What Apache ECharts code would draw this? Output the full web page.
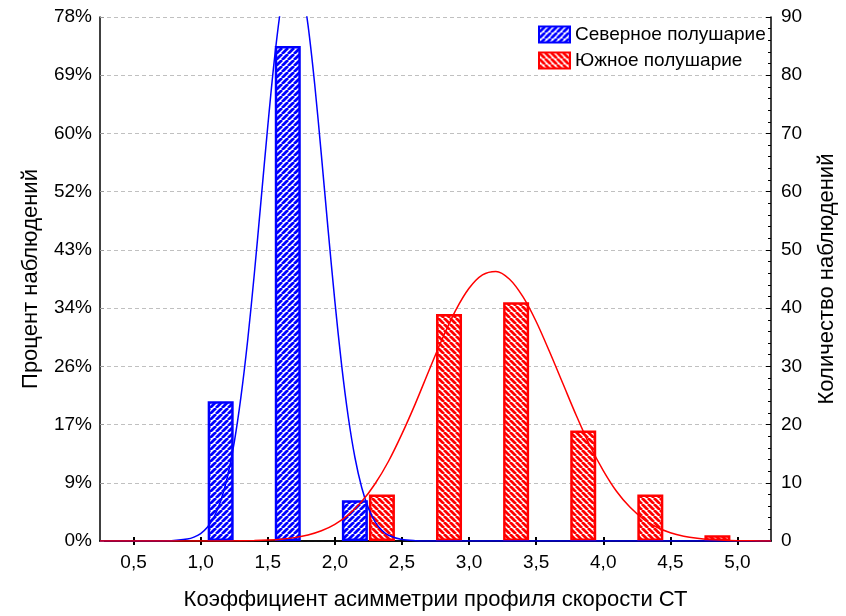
<!DOCTYPE html>
<html>
<head>
<meta charset="utf-8">
<script src="https://cdn.jsdelivr.net/npm/echarts@6/dist/echarts.min.js"></script>
<style>html,body{margin:0;padding:0;background:#fff;}#c{width:846px;height:616px;}</style>
</head>
<body>
<div id="c"></div>
<script>
// ---- data ----
var xTickValues = [0.5, 1.0, 1.5, 2.0, 2.5, 3.0, 3.5, 4.0, 4.5, 5.0];
var xTickLabels = ['0,5','1,0','1,5','2,0','2,5','3,0','3,5','4,0','4,5','5,0'];
var pctLabels = ['0%','9%','17%','26%','34%','43%','52%','60%','69%','78%'];
var countTicks = [0,10,20,30,40,50,60,70,80,90];

var northName = 'Северное полушарие';
var southName = 'Южное полушарие';
var northBins = [1.25, 1.75, 2.25];
var northCounts = [24, 85, 7];
var southBins = [2.25, 2.75, 3.25, 3.75, 4.25, 4.75];
var southCounts = [8, 39, 41, 19, 8, 1];

// fitted curves
var northCurveX = [0.25,0.5,0.7,0.8,0.9,0.95,1.0,1.05,1.1,1.15,1.2,1.25,1.3,1.35,1.4,1.45,1.5,1.55,1.6,1.65,1.7,1.75,1.8,1.85,1.9,1.95,2.0,2.05,2.1,2.15,2.2,2.25,2.3,2.35,2.4,2.5,2.6,2.7,3.0,4.0,5.25];
var northCurveY = [0,0,0.01,0.07,0.33,0.67,1.28,2.35,4.12,6.9,11.05,16.9,24.7,34.4,45.9,58.5,71.2,82.8,92.0,97.6,98.9,95.8,88.6,78.4,66.2,53.4,41.2,30.3,21.3,14.3,9.2,5.65,3.3,1.85,0.99,0.25,0.05,0.01,0,0,0];
var southCurveX = [0.25,1.0,1.2,1.4,1.5,1.6,1.7,1.8,1.9,2.0,2.1,2.2,2.3,2.4,2.5,2.6,2.7,2.8,2.9,3.0,3.1,3.2,3.3,3.4,3.5,3.6,3.7,3.8,3.9,4.0,4.1,4.2,4.3,4.4,4.5,4.6,4.7,4.8,4.9,5.0,5.1,5.25];
var southCurveY = [0,0,0.02,0.08,0.16,0.31,0.58,1.03,1.75,2.86,4.49,6.78,9.84,13.7,18.4,23.6,29.2,34.7,39.6,43.4,45.7,46.3,45.0,42.0,37.7,32.5,27.0,21.5,16.4,12.1,8.5,5.78,3.77,2.36,1.42,0.82,0.46,0.24,0.12,0.06,0.03,0.01];

function zip(a, b) { return a.map(function (v, i) { return [v, b[i]]; }); }

function hatch(color, forward) {
  var s = 6;
  var c = document.createElement('canvas');
  c.width = s; c.height = s;
  var g = c.getContext('2d');
  g.fillStyle = '#ffffff';
  g.fillRect(0, 0, s, s);
  g.strokeStyle = color;
  g.lineWidth = 2.8;
  g.beginPath();
  for (var k = -1; k <= 1; k++) {
    if (forward) { g.moveTo(k * s, s); g.lineTo(k * s + s, 0); }
    else { g.moveTo(k * s, 0); g.lineTo(k * s + s, s); }
  }
  g.stroke();
  return { image: c, repeat: 'repeat' };
}

var FONT = '"Liberation Sans", Arial, sans-serif';
var chart = echarts.init(document.getElementById('c'), null, { renderer: 'canvas' });

var option = {
  animation: false,
  backgroundColor: '#ffffff',
  textStyle: { fontFamily: FONT },
  grid: { left: 100, right: 71, top: 17, height: 534, containLabel: false },
  legend: {
    left: 538, top: 25, orient: 'vertical', padding: 0,
    itemWidth: 31, itemHeight: 16, itemGap: 7,
    icon: 'rect',
    textStyle: { fontFamily: FONT, fontSize: 19, color: '#000' },
    data: [northName, southName]
  },
  xAxis: [
    {
      type: 'value', min: 0.25, max: 5.25, position: 'bottom',
      name: 'Коэффициент асимметрии профиля скорости СТ',
      nameLocation: 'middle', nameGap: 48,
      nameTextStyle: { fontFamily: FONT, fontSize: 22, color: '#000' },
      axisLine: { show: true, lineStyle: { color: '#000', width: 1.5 } },
      axisTick: { show: true, inside: true, length: 4, customValues: xTickValues, lineStyle: { color: '#000', width: 2 } },
      axisLabel: {
        customValues: xTickValues, fontSize: 19, color: '#000', margin: 12, fontFamily: FONT,
        formatter: function (v) { var i = xTickValues.findIndex(function (t) { return Math.abs(t - v) < 1e-6; }); return i >= 0 ? xTickLabels[i] : ''; }
      },
      splitLine: { show: false }
    },
    {
      type: 'value', min: 0.25, max: 5.25, position: 'top',
      axisLine: { show: true, lineStyle: { color: '#000', width: 1.5 } },
      axisTick: { show: true, inside: true, length: 4, customValues: xTickValues, lineStyle: { color: '#000', width: 2 } },
      axisLabel: { show: false },
      splitLine: { show: false }
    }
  ],
  yAxis: [
    {
      type: 'value', min: 0, max: 90, interval: 10, position: 'left',
      name: 'Процент наблюдений', nameLocation: 'middle', nameGap: 58, nameRotate: 90,
      nameTextStyle: { fontFamily: FONT, fontSize: 22, color: '#000' },
      axisLine: { show: true, lineStyle: { color: '#000', width: 1.5 } },
      axisTick: { show: true, inside: true, length: 4, lineStyle: { color: '#999' } },
      axisLabel: { fontSize: 19, color: '#000', margin: 8, fontFamily: FONT,
        formatter: function (v) { return pctLabels[Math.round(v / 10)]; } },
      splitLine: { show: true, lineStyle: { color: '#c0c0c0', type: [4, 3], width: 1 } }
    },
    {
      type: 'value', min: 0, max: 90, interval: 10, position: 'right',
      name: 'Количество наблюдений', nameLocation: 'middle', nameGap: 45, nameRotate: 90,
      nameTextStyle: { fontFamily: FONT, fontSize: 22, color: '#000' },
      axisLine: { show: true, lineStyle: { color: '#000', width: 1.5 } },
      axisTick: { show: true, inside: true, length: 5, lineStyle: { color: '#000' } },
      minorTick: { show: true, splitNumber: 5, length: 3, lineStyle: { color: '#000' } },
      axisLabel: { fontSize: 19, color: '#000', margin: 10, fontFamily: FONT,
        formatter: function (v) { return String(v); } },
      splitLine: { show: false }
    }
  ],
  series: [
    {
      name: northName, type: 'bar', xAxisIndex: 0, yAxisIndex: 1,
      barWidth: 26, barGap: '4%',
      itemStyle: { color: hatch('#0000ff', true), borderColor: '#0000ff', borderWidth: 2.5 },
      data: zip(northBins, northCounts), z: 2
    },
    {
      name: southName, type: 'bar', xAxisIndex: 0, yAxisIndex: 1,
      barWidth: 26, barGap: '4%',
      itemStyle: { color: hatch('#ff0000', false), borderColor: '#ff0000', borderWidth: 2.5 },
      data: zip(southBins, southCounts), z: 2
    },
    {
      name: northName + ' curve', type: 'line', xAxisIndex: 0, yAxisIndex: 1,
      smooth: 0.3, showSymbol: false, symbol: 'none', clip: true,
      lineStyle: { color: '#0000ff', width: 1.5 },
      data: zip(northCurveX, northCurveY), z: 3
    },
    {
      name: southName + ' curve', type: 'line', xAxisIndex: 0, yAxisIndex: 1,
      smooth: 0.3, showSymbol: false, symbol: 'none', clip: true,
      lineStyle: { color: '#ff0000', width: 1.5 },
      data: zip(southCurveX, southCurveY), z: 3
    }
  ]
};
chart.setOption(option);
</script>
</body>
</html>
